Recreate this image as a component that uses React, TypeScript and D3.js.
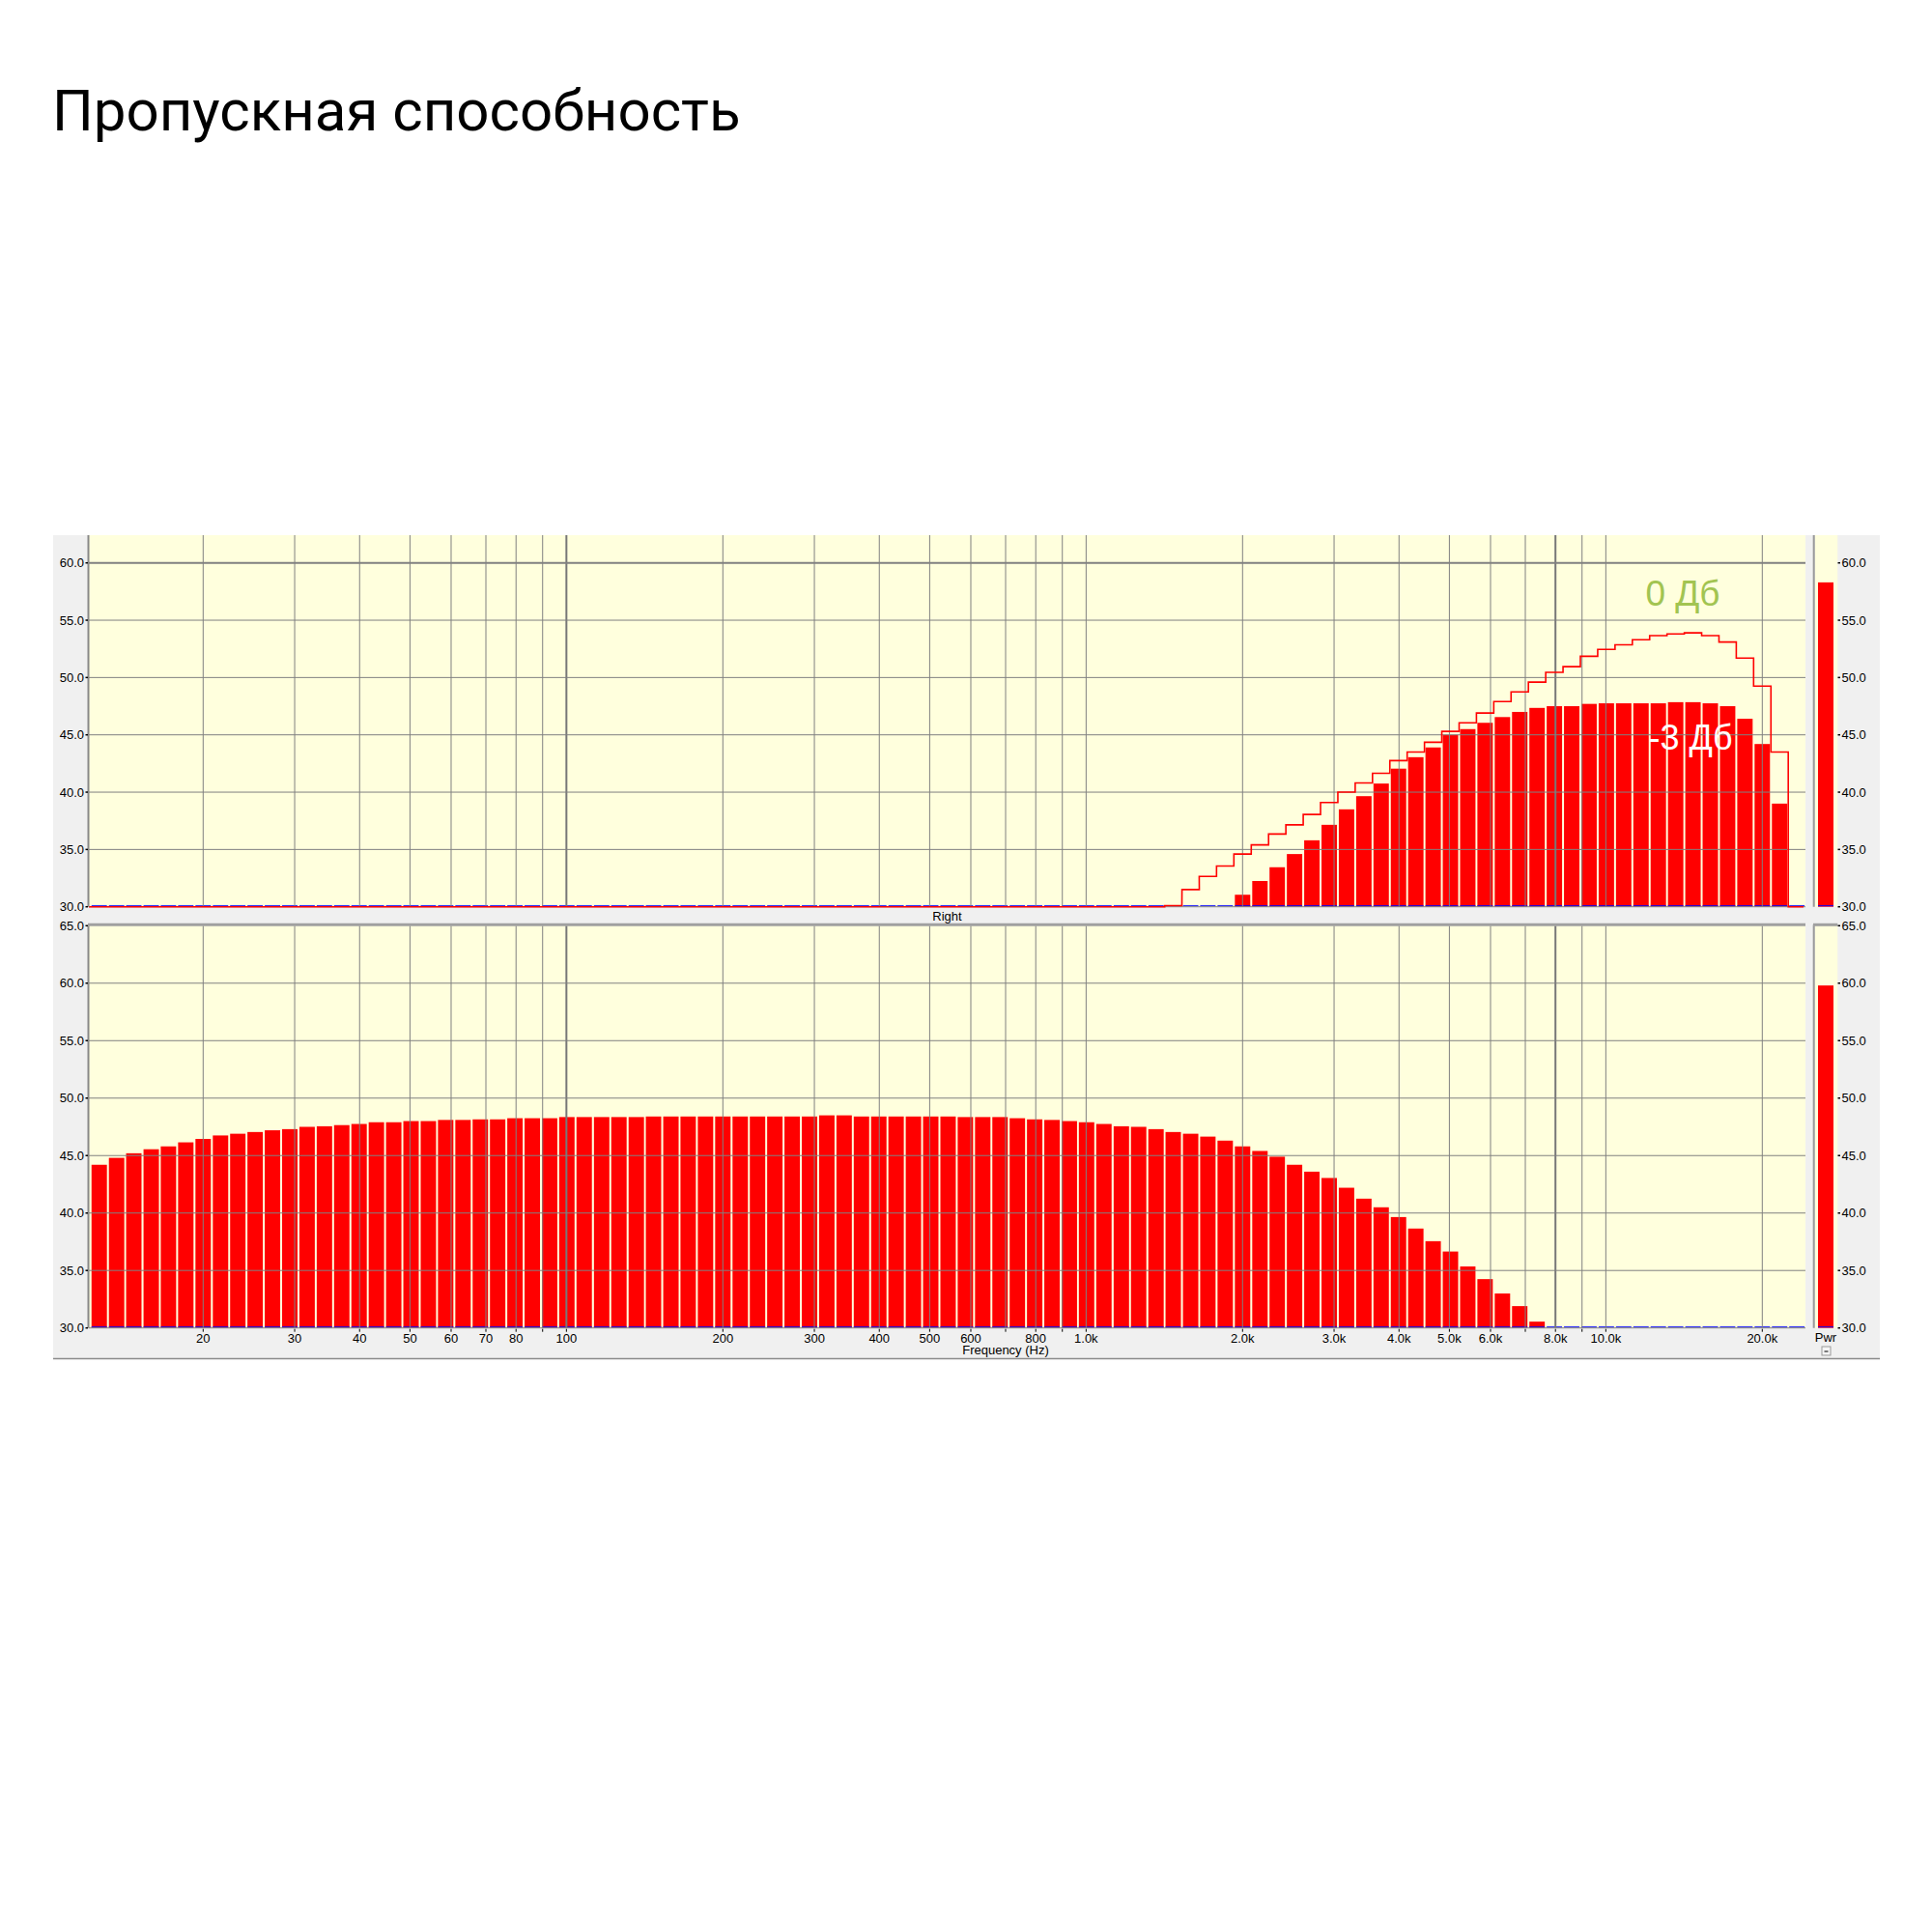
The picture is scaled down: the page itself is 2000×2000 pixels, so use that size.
import React from "react";
import * as d3 from "d3";

// ---------- DATA ----------
const titleText = "Пропускная способность";

// 1/30-decade band centres (Hz)
const bandCenters = [
  12.62, 13.63, 14.71, 15.89, 17.15, 18.52, 20.0, 21.6, 23.32, 25.18, 27.19, 29.36, 31.7, 34.23, 36.96, 39.91,
  43.09, 46.53, 50.24, 54.25, 58.57, 63.25, 68.29, 73.74, 79.62, 85.97, 92.83, 100.2, 108.2, 116.9, 126.2, 136.3,
  147.1, 158.9, 171.5, 185.2, 200.0, 216.0, 233.2, 251.8, 271.9, 293.6, 317.0, 342.3, 369.6, 399.1, 430.9, 465.3,
  502.4, 542.5, 585.7, 632.5, 682.9, 737.4, 796.2, 859.7, 928.3, 1002, 1082, 1169, 1262, 1363, 1471, 1589, 1715,
  1852, 2000, 2160, 2332, 2518, 2719, 2936, 3170, 3423, 3696, 3991, 4309, 4653, 5024, 5425, 5857, 6325, 6829,
  7374, 7962, 8597, 9283, 10024, 10823, 11687, 12619, 13626, 14713, 15887, 17154, 18522, 20000, 21596, 23318,
];

// upper panel bars (dB)
const leftLevels = [
  30, 30, 30, 30, 30, 30, 30, 30, 30, 30, 30, 30, 30, 30, 30, 30, 30, 30, 30, 30, 30, 30, 30, 30, 30, 30, 30, 30,
  30, 30, 30, 30, 30, 30, 30, 30, 30, 30, 30, 30, 30, 30, 30, 30, 30, 30, 30, 30, 30, 30, 30, 30, 30, 30, 30, 30,
  30, 30, 30, 30, 30, 30, 30, 30, 30, 30,
  31.05, 32.25, 33.45, 34.6, 35.8, 37.15, 38.5, 39.65, 40.75, 42.05, 43.05, 43.9, 45.0, 45.5, 46.05, 46.55, 47.0,
  47.35, 47.5, 47.5, 47.7, 47.75, 47.75, 47.75, 47.75, 47.85, 47.85, 47.75, 47.5, 46.4, 44.2, 39.0, 30,
];

// upper panel peak-hold outline (dB)
const leftPeak = [
  30, 30, 30, 30, 30, 30, 30, 30, 30, 30, 30, 30, 30, 30, 30, 30, 30, 30, 30, 30, 30, 30, 30, 30, 30, 30, 30, 30,
  30, 30, 30, 30, 30, 30, 30, 30, 30, 30, 30, 30, 30, 30, 30, 30, 30, 30, 30, 30, 30, 30, 30, 30, 30, 30, 30, 30,
  30, 30, 30, 30, 30, 30,
  30.1, 31.5, 32.65, 33.55, 34.6, 35.4, 36.35, 37.15, 38.05, 39.1, 40.0, 40.8, 41.65, 42.75, 43.5, 44.35, 45.3,
  46.05, 46.9, 47.9, 48.75, 49.6, 50.45, 50.95, 51.85, 52.45, 52.85, 53.3, 53.65, 53.8, 53.9, 53.65, 53.1, 51.7,
  49.25, 43.5, 30,
];

// lower panel ("Right") bars (dB)
const rightLevels = [
  44.2, 44.8, 45.2, 45.55, 45.8, 46.15, 46.45, 46.75, 46.9, 47.05, 47.2, 47.3, 47.5, 47.55, 47.65, 47.75, 47.9,
  47.9, 48.0, 48.0, 48.1, 48.1, 48.15, 48.15, 48.25, 48.25, 48.25, 48.35, 48.35, 48.35, 48.35, 48.35, 48.4, 48.4,
  48.4, 48.4, 48.4, 48.4, 48.4, 48.4, 48.4, 48.4, 48.5, 48.5, 48.4, 48.4, 48.4, 48.4, 48.4, 48.4, 48.35, 48.35,
  48.35, 48.25, 48.15, 48.1, 48.0, 47.9, 47.75, 47.55, 47.5, 47.3, 47.05, 46.9, 46.65, 46.3, 45.8, 45.4, 44.9,
  44.2, 43.6, 43.05, 42.2, 41.25, 40.5, 39.65, 38.65, 37.55, 36.65, 35.35, 34.25, 33.0, 31.9, 30.55,
  30, 30, 30, 30, 30, 30, 30, 30, 30, 30, 30, 30, 30, 30, 30,
];

const pwrLevels = [58.3, 59.8]; // upper, lower

const gridFreqs = [
  20, 30, 40, 50, 60, 70, 80, 90, 100, 200, 300, 400, 500, 600, 700, 800, 900, 1000, 2000, 3000, 4000, 5000, 6000,
  7000, 8000, 9000, 10000, 20000,
];
const markerFreqs = [100, 8000];
const xTickFreqs = [20, 30, 40, 50, 60, 70, 80, 100, 200, 300, 400, 500, 600, 800, 1000, 2000, 3000, 4000, 5000, 6000, 8000, 10000, 20000];
const xTickLabels = ["20", "30", "40", "50", "60", "70", "80", "100", "200", "300", "400", "500", "600", "800", "1.0k", "2.0k", "3.0k", "4.0k", "5.0k", "6.0k", "8.0k", "10.0k", "20.0k"];
const topTicks = [30, 35, 40, 45, 50, 55, 60];
const bottomTicks = [30, 35, 40, 45, 50, 55, 60, 65];

// ---------- LAYOUT ----------
const PL = 92;
const PR = 1869;
const TOP_T = 554;
const TOP_B = 938.7;
const BOT_T = 958.3;
const BOT_B = 1374.7;
const SIDE_L = 1878.7;
const SIDE_R = 1902.3;
const HALF = Math.pow(10, 1 / 60);

const x = d3.scaleLog().domain([20, 20000]).range([210.3, 1824.3]);
const yTop = d3.scaleLinear().domain([30, 60]).range([TOP_B, 582.7]);
const yBot = d3.scaleLinear().domain([30, 65]).range([BOT_B, BOT_T]);

const FONT = "'Liberation Sans', Arial, sans-serif";
const GRID = "#808080";

function Bars({ values, y }: { values: number[]; y: d3.ScaleLinear<number, number> }) {
  return (
    <g>
      {bandCenters.map((f, i) => {
        const x0 = x(f / HALF) + 1;
        const x1 = x(f * HALF) - 1;
        const yt = y(values[i]);
        const yb = y(30);
        return (
          <g key={i}>
            {yb - yt > 0.2 && <rect x={x0} y={yt} width={x1 - x0} height={yb - yt} fill="#ff0000" />}
            <line x1={x0} x2={x1} y1={yb - 1} y2={yb - 1} stroke="#0000ff" strokeWidth={1} />
          </g>
        );
      })}
    </g>
  );
}

function Grid({ y, ticks, top, bottom }: { y: d3.ScaleLinear<number, number>; ticks: number[]; top: number; bottom: number }) {
  return (
    <g>
      {gridFreqs.map((f) => (
        <line
          key={"v" + f}
          x1={x(f)}
          x2={x(f)}
          y1={top}
          y2={bottom}
          stroke={markerFreqs.includes(f) ? "#777" : GRID}
          strokeWidth={markerFreqs.includes(f) ? 2 : 1}
        />
      ))}
      {ticks.map((t) => (
        <line key={"h" + t} x1={PL} x2={PR} y1={y(t)} y2={y(t)} stroke={GRID} strokeWidth={t === 60 && top === TOP_T ? 2 : 1} />
      ))}
    </g>
  );
}

function YLabels({ y, ticks }: { y: d3.ScaleLinear<number, number>; ticks: number[] }) {
  return (
    <g fontFamily={FONT} fontSize={13} fill="#000">
      {ticks.map((t) => (
        <g key={t}>
          <text x={87} y={y(t) + 4.7} textAnchor="end">
            {t.toFixed(1)}
          </text>
          <line x1={88.5} x2={91} y1={y(t)} y2={y(t)} stroke="#000" strokeWidth={1.5} />
          <text x={1906.5} y={y(t) + 4.7} textAnchor="start">
            {t.toFixed(1)}
          </text>
          <line x1={1902.5} x2={1905} y1={y(t)} y2={y(t)} stroke="#000" strokeWidth={1.5} />
        </g>
      ))}
    </g>
  );
}

export default function App() {
  const step = d3
    .line<[number, number]>()
    .x((d) => d[0])
    .y((d) => d[1]);
  const pts: [number, number][] = [[PL, yTop(30)]];
  bandCenters.forEach((f, i) => {
    pts.push([x(f / HALF), yTop(leftPeak[i])]);
    pts.push([Math.min(x(f * HALF), PR - 2), yTop(leftPeak[i])]);
  });

  return (
    <svg width={2000} height={2000} style={{ position: "absolute", left: 0, top: 0, background: "#fff" }}>
      <rect x={0} y={0} width={2000} height={2000} fill="#fff" />
      <text x={54} y={135} fontFamily="Roboto, sans-serif" fontSize={60} fill="#000">
        {titleText}
      </text>

      {/* panel background */}
      <rect x={55} y={TOP_T} width={1946 - 55} height={1407 - TOP_T} fill="#f0f0f0" />
      <line x1={55} x2={1946} y1={1406.5} y2={1406.5} stroke="#8a8a8a" strokeWidth={1.5} />

      {/* plot areas */}
      <rect x={PL} y={TOP_T} width={PR - PL} height={TOP_B - TOP_T} fill="#ffffdd" />
      <rect x={PL} y={BOT_T} width={PR - PL} height={BOT_B - BOT_T} fill="#ffffdd" />
      <rect x={SIDE_L} y={TOP_T} width={SIDE_R - SIDE_L} height={TOP_B - TOP_T} fill="#ffffdd" />
      <rect x={SIDE_L} y={BOT_T} width={SIDE_R - SIDE_L} height={BOT_B - BOT_T} fill="#ffffdd" />

      {/* bars */}
      <Bars values={leftLevels} y={yTop} />
      <Bars values={rightLevels} y={yBot} />

      {/* grids over bars */}
      <Grid y={yTop} ticks={topTicks} top={TOP_T} bottom={TOP_B} />
      <Grid y={yBot} ticks={bottomTicks.filter((t) => t < 65)} top={BOT_T} bottom={BOT_B} />

      {/* peak outline */}
      <path d={step(pts) || ""} fill="none" stroke="#ff0000" strokeWidth={1.6} />

      {/* pwr bars */}
      <rect x={1882} y={yTop(pwrLevels[0])} width={16} height={TOP_B - yTop(pwrLevels[0])} fill="#ff0000" />
      <line x1={1882} x2={1898} y1={TOP_B - 1} y2={TOP_B - 1} stroke="#0000ff" />
      <rect x={1882} y={yBot(pwrLevels[1])} width={16} height={BOT_B - yBot(pwrLevels[1])} fill="#ff0000" />
      <line x1={1882} x2={1898} y1={BOT_B - 1} y2={BOT_B - 1} stroke="#0000ff" />

      {/* borders */}
      <line x1={PL - 0.5} x2={PL - 0.5} y1={TOP_T} y2={TOP_B} stroke="#888" strokeWidth={2} />
      <line x1={PL - 0.5} x2={PL - 0.5} y1={BOT_T} y2={BOT_B} stroke="#888" strokeWidth={2} />
      <line x1={PL - 1} x2={PR} y1={BOT_T - 1} y2={BOT_T - 1} stroke="#a0a0a0" strokeWidth={3} />
      <line x1={1877.7} x2={1877.7} y1={TOP_T} y2={TOP_B} stroke="#999" strokeWidth={2} />
      <line x1={1877.7} x2={1877.7} y1={BOT_T - 1} y2={BOT_B} stroke="#999" strokeWidth={2} />
      <line x1={1877} x2={SIDE_R} y1={BOT_T - 1} y2={BOT_T - 1} stroke="#a0a0a0" strokeWidth={3} />

      <YLabels y={yTop} ticks={topTicks} />
      <YLabels y={yBot} ticks={bottomTicks} />

      {/* x ticks & labels */}
      <g>
        {gridFreqs.map((f) => (
          <line key={f} x1={x(f)} x2={x(f)} y1={BOT_B + 1} y2={BOT_B + 4} stroke="#000" strokeWidth={1} />
        ))}
      </g>
      <g fontFamily={FONT} fontSize={13} fill="#000" textAnchor="middle">
        {xTickFreqs.map((f, i) => (
          <text key={f} x={x(f)} y={1390}>
            {xTickLabels[i]}
          </text>
        ))}
        <text x={1041} y={1402}>
          Frequency (Hz)
        </text>
        <text x={980.5} y={953.3}>
          Right
        </text>
        <text x={1890} y={1389}>
          Pwr
        </text>
      </g>
      <rect x={1886} y={1394} width={9} height={9} fill="#f4f4f4" stroke="#999" strokeWidth={1} />
      <line x1={1888.5} x2={1892.5} y1={1399} y2={1399} stroke="#000" strokeWidth={1} />

      {/* annotations */}
      <text x={1742} y={627} fontFamily={FONT} fontSize={37} fill="#a2c451" textAnchor="middle">
        0 Дб
      </text>
      <text x={1750} y={776} fontFamily={FONT} fontSize={36} fill="#ffffff" textAnchor="middle">
        -3 Дб
      </text>
    </svg>
  );
}
